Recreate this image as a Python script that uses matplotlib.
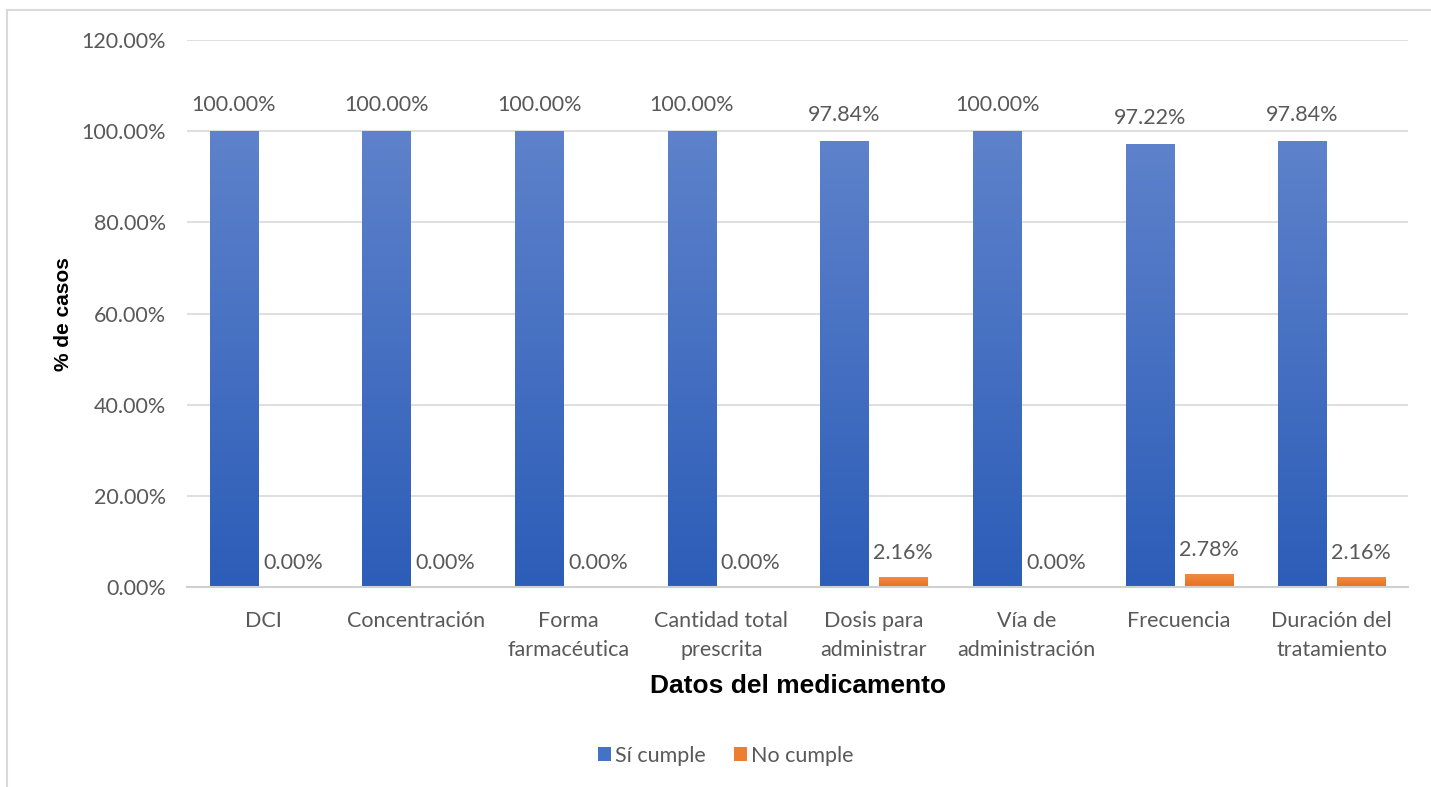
import numpy as np
import matplotlib.pyplot as plt
from matplotlib.lines import Line2D
from matplotlib.patches import Patch

categories = ['DCI', 'Concentración', 'Forma\nfarmacéutica', 'Cantidad total\nprescrita',
              'Dosis para\nadministrar', 'Vía de\nadministración', 'Frecuencia',
              'Duración del\ntratamiento']
si_cumple = [100.00, 100.00, 100.00, 100.00, 97.84, 100.00, 97.22, 97.84]
no_cumple = [0.00, 0.00, 0.00, 0.00, 2.16, 0.00, 2.78, 2.16]
y_ticks = [0, 20, 40, 60, 80, 100, 120]

TEXT = '#595959'
FS = 15.5
plt.rcParams['font.family'] = ['Lato', 'DejaVu Sans']


def gradient_bars(ax, bars, top_color, bottom_color):
    grad = np.linspace(0, 1, 256).reshape(-1, 1)
    c1 = np.array(plt.matplotlib.colors.to_rgb(top_color))
    c2 = np.array(plt.matplotlib.colors.to_rgb(bottom_color))
    img = (c1 * (1 - grad) + c2 * grad).reshape(256, 1, 3)
    for b in bars:
        x0, y0 = b.get_x(), b.get_y()
        w, h = b.get_width(), b.get_height()
        if h <= 0:
            continue
        im = ax.imshow(img, extent=(x0, x0 + w, y0, y0 + h), origin='upper',
                       aspect='auto', zorder=b.get_zorder(), interpolation='bilinear')
        im.set_clip_path(b)
        b.set_facecolor('none')


fig = plt.figure(figsize=(14.31, 7.87), dpi=100)
ax = fig.add_axes([0.1307, 0.254, 0.8533, 0.695])

x = np.arange(len(categories))
w = 0.315
off = 0.193
b1 = ax.bar(x - off, si_cumple, w, color='#4472C4', zorder=3, linewidth=0)
b2 = ax.bar(x + off, no_cumple, w, color='#ED7D31', zorder=3, linewidth=0)
gradient_bars(ax, b1, '#5E82CB', '#2C5DB8')
gradient_bars(ax, b2, '#F08A44', '#E8701E')

for xi, v in zip(x - off, si_cumple):
    ax.annotate(f'{v:.2f}%', (xi, v), xytext=(0, 16), textcoords='offset pixels',
                ha='center', va='bottom', fontsize=FS, color=TEXT)
for xi, v in zip(x + off, no_cumple):
    ax.annotate(f'{v:.2f}%', (xi, v), xytext=(0, 14), textcoords='offset pixels',
                ha='center', va='bottom', fontsize=FS, color=TEXT)

ax.set_xlim(-0.5, len(categories) - 0.5)
ax.set_ylim(0, 120)
ax.set_yticks(y_ticks)
ax.set_yticklabels([f'{t:.2f}%' for t in y_ticks])
ax.set_xticks(x)
ax.set_xticklabels(categories, linespacing=1.6)
ax.tick_params(axis='y', length=0, pad=15, labelsize=FS, labelcolor=TEXT)
ax.tick_params(axis='x', length=0, pad=17, labelsize=FS, labelcolor=TEXT)
ax.grid(axis='y', color='#D9D9D9', linewidth=1.2, zorder=0)
ax.set_axisbelow(True)
for s in ['top', 'right', 'left']:
    ax.spines[s].set_visible(False)
ax.spines['bottom'].set_color('#D0D0D0')
ax.spines['bottom'].set_linewidth(1.5)
ax.spines['bottom'].set_zorder(4)

ax.set_ylabel('% de casos', fontsize=15, fontweight='bold', color='black',
              family='Liberation Sans', labelpad=6)
ax.set_xlabel('Datos del medicamento', fontsize=19, fontweight='bold', color='black',
              family='Liberation Sans', labelpad=10)

handles = [Patch(facecolor='#4472C4', label='Sí cumple'),
           Patch(facecolor='#ED7D31', label='No cumple')]
fig.legend(handles=handles, loc='center', bbox_to_anchor=(0.507, 0.04), ncol=2,
           frameon=False, fontsize=FS, labelcolor=TEXT, handlelength=0.6,
           handleheight=0.6, handletextpad=0.2, columnspacing=1.3)

# chart area border
fig.add_artist(Line2D([7 / 1431, 1], [1 - 10 / 787] * 2, transform=fig.transFigure,
                      color='#D9D9D9', linewidth=1.5))
fig.add_artist(Line2D([7 / 1431] * 2, [0, 1 - 10 / 787], transform=fig.transFigure,
                      color='#D9D9D9', linewidth=1.5))

fig.savefig('out.png', dpi=100)
